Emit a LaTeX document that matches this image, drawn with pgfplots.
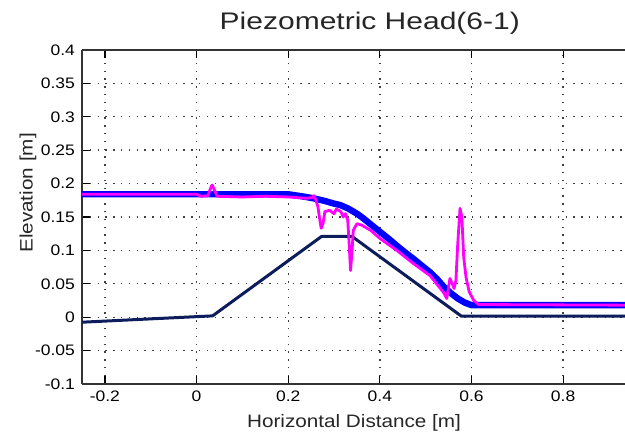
\documentclass[border=0pt]{standalone}
\usepackage{fontspec}
\setmainfont{Liberation Sans}
\newfontfamily\wfont[FakeStretch=1.15]{Liberation Sans}
\newfontfamily\tfont[FakeStretch=1.25]{Liberation Sans}
\usepackage{pgfplots}
\pgfplotsset{compat=1.18}

\definecolor{bedblue}{RGB}{12,28,92}
\definecolor{headblue}{RGB}{0,0,255}
\definecolor{headmag}{RGB}{255,0,255}

\begin{document}
\begin{tikzpicture}
% page = 625x444 px at 0.5pt per px, axis south west at origin
\path[use as bounding box] (-41pt,-30pt) rectangle (271.5pt,192pt);
\begin{axis}[
    scale only axis,
    width=271.5pt, height=167pt,
    xmin=-0.25, xmax=0.935, ymin=-0.1, ymax=0.4,
    axis x line*=box, axis y line*=left,
    axis line style={black!80, line width=0.8pt},
    xtick={-0.2,0,0.2,0.4,0.6,0.8},
    ytick={-0.1,-0.05,0,0.05,0.1,0.15,0.2,0.25,0.3,0.35,0.4},
    scaled ticks=false,
    /pgf/number format/assume math mode=true,
    /pgf/number format/fixed,
    /pgf/number format/precision=2,
    tick label style={font=\wfont\fontsize{7.6}{8}\selectfont, black},
    major tick length=4pt,
    tick style={black, line width=0.6pt},
    grid=major,
    major grid style={black!75, line width=0.7pt, dash pattern=on 0.7pt off 3.2pt},
    title={Piezometric Head(6-1)},
    title style={at={(axis description cs:0.53,1)}, anchor=base, yshift=4pt,
        font=\tfont\fontsize{12}{14}\selectfont, black!85},
    xlabel={Horizontal Distance [m]},
    xlabel style={at={(axis description cs:0.501,0)}, anchor=center, yshift=-19.5pt,
        font=\wfont\fontsize{9}{11}\selectfont, black!85},
    ylabel={Elevation [m]},
    ylabel style={at={(axis description cs:-0.0994,0.572)}, anchor=center,
        font=\wfont\fontsize{9}{11}\selectfont, black!85},
]
% bed profile
\addplot[bedblue, line width=1.5pt, line join=round] coordinates {
    (-0.25,-0.0075) (0.035,0.002) (0.273,0.121) (0.339,0.121)
    (0.578,0.0015) (0.935,0.0015)
};
% computed head
\addplot[headblue, line width=3.2pt, line join=round] coordinates {
    (-0.25,0.184) (0.0,0.184) (0.1,0.184) (0.2,0.184) (0.23,0.181)
    (0.255,0.178) (0.28,0.174) (0.30,0.170) (0.313,0.168) (0.33,0.163)
    (0.35,0.155) (0.364,0.148) (0.38,0.139) (0.40,0.128) (0.42,0.117)
    (0.437,0.107) (0.455,0.097) (0.474,0.087) (0.49,0.078) (0.51,0.067)
    (0.525,0.057) (0.539,0.046) (0.555,0.036) (0.57,0.028) (0.585,0.022)
    (0.60,0.018) (0.935,0.018)
};
% measured head
\addplot[headmag, line width=1.4pt, line join=round] coordinates {
    (-0.25,0.184) (0.0,0.184) (0.01,0.181) (0.025,0.182) (0.030,0.192)
    (0.034,0.198) (0.038,0.192) (0.045,0.181) (0.1,0.180) (0.15,0.181)
    (0.2,0.180) (0.24,0.178) (0.252,0.179) (0.256,0.182) (0.26,0.176)
    (0.265,0.165) (0.268,0.150) (0.272,0.133) (0.276,0.140) (0.28,0.158)
    (0.29,0.160) (0.30,0.155) (0.305,0.162) (0.315,0.158) (0.32,0.150)
    (0.325,0.155) (0.33,0.145) (0.333,0.110) (0.336,0.070) (0.339,0.095)
    (0.342,0.130) (0.35,0.140) (0.36,0.138) (0.38,0.130) (0.40,0.118)
    (0.437,0.100) (0.47,0.082) (0.51,0.062) (0.539,0.037) (0.546,0.028)
    (0.553,0.058) (0.558,0.050) (0.562,0.043) (0.566,0.055) (0.570,0.110)
    (0.575,0.163) (0.579,0.150) (0.583,0.090) (0.588,0.060) (0.595,0.038)
    (0.605,0.025) (0.615,0.019) (0.935,0.018)
};
\end{axis}
\end{tikzpicture}
\end{document}
